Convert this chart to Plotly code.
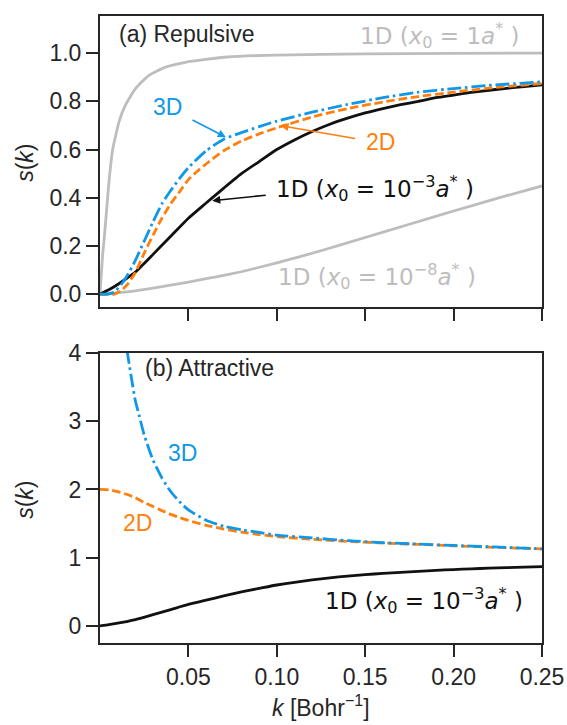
import plotly.graph_objects as go

# ---------------- data ----------------
# (a) Repulsive
k_gray_hi = [0, 0.0015, 0.0024, 0.0034, 0.0052, 0.0071, 0.0109, 0.0146, 0.0202, 0.0277, 0.0371,
             0.0483, 0.0721, 0.1, 0.15, 0.2, 0.25]
s_gray_hi = [0, 0.165, 0.232, 0.32, 0.476, 0.597, 0.719, 0.787, 0.854, 0.908, 0.942,
             0.962, 0.984, 0.992, 0.997, 0.999, 1.0]

k_gray_lo = [0, 0.01, 0.02, 0.03, 0.04, 0.05, 0.06, 0.07, 0.08, 0.1, 0.125, 0.15, 0.175, 0.2, 0.225, 0.25]
s_gray_lo = [0, 0.006, 0.014, 0.025, 0.037, 0.05, 0.064, 0.078, 0.093, 0.13, 0.18, 0.235, 0.29, 0.345, 0.398, 0.449]

k_1d = [0, 0.005, 0.01, 0.015, 0.02, 0.03, 0.04, 0.05, 0.06, 0.07, 0.08, 0.09, 0.1, 0.11, 0.12,
        0.13, 0.14, 0.15, 0.16, 0.17, 0.18, 0.19, 0.2, 0.21, 0.22, 0.23, 0.24, 0.25]
s_1d = [0, 0.018, 0.04, 0.065, 0.092, 0.165, 0.24, 0.315, 0.378, 0.44, 0.5, 0.55, 0.6, 0.64, 0.675,
        0.705, 0.73, 0.752, 0.77, 0.786, 0.80, 0.815, 0.826, 0.837, 0.846, 0.854, 0.861, 0.868]

k_3d_rep = [0, 0.004, 0.008, 0.012, 0.016, 0.02, 0.025, 0.03, 0.035, 0.04, 0.045, 0.05, 0.06, 0.07,
            0.08, 0.09, 0.1, 0.12, 0.14, 0.16, 0.18, 0.2, 0.22, 0.25]
s_3d_rep = [0, 0.0, 0.008, 0.04, 0.085, 0.14, 0.22, 0.30, 0.375, 0.43, 0.48, 0.525, 0.595, 0.643,
            0.67, 0.695, 0.718, 0.755, 0.787, 0.815, 0.838, 0.853, 0.866, 0.881]

k_2d_rep = [0, 0.008, 0.012, 0.016, 0.02, 0.025, 0.03, 0.035, 0.04, 0.045, 0.05, 0.055, 0.06, 0.07,
            0.08, 0.09, 0.1, 0.12, 0.14, 0.16, 0.18, 0.2, 0.22, 0.25]
s_2d_rep = [0, 0.0, 0.015, 0.045, 0.09, 0.17, 0.245, 0.315, 0.375, 0.425, 0.475, 0.51, 0.54, 0.595,
            0.635, 0.665, 0.69, 0.735, 0.77, 0.797, 0.82, 0.838, 0.855, 0.874]

# (b) Attractive
k_3d_att = [0.0152, 0.0178, 0.02, 0.0215, 0.025, 0.03, 0.035, 0.04, 0.045, 0.05, 0.06, 0.07, 0.08,
            0.09, 0.1, 0.12, 0.14, 0.16, 0.18, 0.2, 0.22, 0.25]
s_3d_att = [4.05, 3.63, 3.3, 3.15, 2.8, 2.43, 2.17, 1.97, 1.82, 1.7, 1.55, 1.46, 1.41,
            1.37, 1.33, 1.29, 1.25, 1.22, 1.2, 1.18, 1.16, 1.13]

k_2d_att = [0, 0.005, 0.01, 0.015, 0.02, 0.025, 0.03, 0.035, 0.04, 0.045, 0.05, 0.06, 0.07, 0.08,
            0.09, 0.1, 0.12, 0.14, 0.16, 0.18, 0.2, 0.22, 0.25]
s_2d_att = [2.0, 1.995, 1.97, 1.93, 1.88, 1.81, 1.75, 1.69, 1.635, 1.59, 1.545, 1.475, 1.42, 1.375,
            1.34, 1.31, 1.27, 1.24, 1.215, 1.195, 1.175, 1.155, 1.13]

x_ticks = [0.05, 0.10, 0.15, 0.20, 0.25]
y_ticks_top = [0.0, 0.2, 0.4, 0.6, 0.8, 1.0]
y_ticks_bot = [0, 1, 2, 3, 4]

# ---------------- style ----------------
DARK = "#262626"
BLUE = "#0f97e8"
ORANGE = "#ff7f0e"
GRAY = "#bdbdbd"
BLACK = "#111111"
LW = 2.8
DASH = "8.5px,3.8px"
DASHDOT = "14px,3.8px,2.6px,3.8px"
FONT = "Liberation Sans, Arial, sans-serif"
MFONT = "DejaVu Sans, sans-serif"
FS = 23
MFS = 23

fig = go.Figure()

def add(x, y, color, dash, xa, ya):
    fig.add_trace(go.Scatter(x=x, y=y, mode="lines", xaxis=xa, yaxis=ya,
                             line=dict(color=color, width=LW, dash=dash, shape="spline", smoothing=0.5),
                             showlegend=False, hoverinfo="skip"))

add(k_gray_hi, s_gray_hi, GRAY, "solid", "x", "y")
add(k_gray_lo, s_gray_lo, GRAY, "solid", "x", "y")
add(k_1d, s_1d, BLACK, "solid", "x", "y")
add(k_2d_rep, s_2d_rep, ORANGE, DASH, "x", "y")
add(k_3d_rep, s_3d_rep, BLUE, DASHDOT, "x", "y")

add(k_1d, s_1d, BLACK, "solid", "x2", "y2")
add(k_2d_att, s_2d_att, ORANGE, DASH, "x2", "y2")
add(k_3d_att, s_3d_att, BLUE, DASHDOT, "x2", "y2")

axis_common = dict(showline=True, mirror=True, linecolor=DARK, linewidth=2,
                   ticks="outside", ticklen=12, tickwidth=2, tickcolor=DARK,
                   showgrid=False, zeroline=False, ticklabeloverflow="allow",
                   tickfont=dict(family=FONT, size=FS, color=DARK))

fig.update_layout(
    width=567, height=725,
    margin=dict(l=100, r=22, t=3, b=82),
    plot_bgcolor="white", paper_bgcolor="white",
    xaxis=dict(domain=[0, 1], range=[0, 0.25], anchor="y", tickvals=x_ticks,
               showticklabels=False, **axis_common),
    yaxis=dict(domain=[0.536, 1], range=[-0.053, 1.154], anchor="x", tickvals=y_ticks_top,
               tickformat=".1f", **axis_common),
    xaxis2=dict(domain=[0, 1], range=[0, 0.25], anchor="y2", tickvals=x_ticks,
                tickformat=".2f", **axis_common),
    yaxis2=dict(domain=[0, 0.4625], range=[-0.25, 4.0], anchor="x2", tickvals=y_ticks_bot,
                **axis_common),
)

ann = []
def text(x, y, s, color, xref="x", yref="y", xanchor="center", family=FONT, size=FS, angle=0):
    ann.append(dict(x=x, y=y, xref=xref, yref=yref, text=s, showarrow=False, xanchor=xanchor,
                    yanchor="middle", textangle=angle, font=dict(family=family, size=size, color=color)))

def arrow(xt, yt, xh, yh, color, xref="x", yref="y"):
    ann.append(dict(x=xh, y=yh, ax=xt, ay=yt, xref=xref, yref=yref, axref=xref, ayref=yref,
                    text="", showarrow=True, arrowhead=2, arrowsize=1.0, arrowwidth=1.6,
                    arrowcolor=color, standoff=0))

d1e3 = "1D (<i>x</i><sub>0</sub> = 10<sup>−3</sup><i>a</i><sup>*</sup> )"
text(0.0096, 1.08, "(a) Repulsive", DARK, xanchor="left")
text(0.2388, 1.072, "1D (<i>x</i><sub>0</sub> = 1<i>a</i><sup>*</sup> )", GRAY, xanchor="right", family=MFONT, size=MFS)
text(0.0379, 0.776, "3D", BLUE)
arrow(0.0515, 0.726, 0.0712, 0.651, BLUE)
text(0.1584, 0.63, "2D", ORANGE)
arrow(0.1451, 0.645, 0.1021, 0.699, ORANGE)
text(0.0985, 0.44, d1e3, BLACK, xanchor="left", family=MFONT, size=MFS)
arrow(0.0946, 0.411, 0.0635, 0.388, BLACK)
text(0.0995, 0.075, "1D (<i>x</i><sub>0</sub> = 10<sup>−8</sup><i>a</i><sup>*</sup> )", GRAY, xanchor="left", family=MFONT, size=MFS)

text(0.0242, 3.78, "(b) Attractive", DARK, xref="x2", yref="y2", xanchor="left")
text(0.0466, 2.53, "3D", BLUE, xref="x2", yref="y2")
text(0.0211, 1.51, "2D", ORANGE, xref="x2", yref="y2")
text(0.2405, 0.38, d1e3, BLACK, xref="x2", yref="y2", xanchor="right", family=MFONT, size=MFS)

# axis titles
text(-0.17, (643 - 153) / 640, "<i>s</i>(<i>k</i>)", DARK, xref="paper", yref="paper", angle=-90)
text(-0.17, (643 - 497) / 640, "<i>s</i>(<i>k</i>)", DARK, xref="paper", yref="paper", angle=-90)
text(0.5, (643 - 707) / 640, "<i>k</i> [Bohr<sup>−1</sup>]", DARK, xref="paper", yref="paper")

fig.update_layout(annotations=ann)
fig.write_html("out.html")
